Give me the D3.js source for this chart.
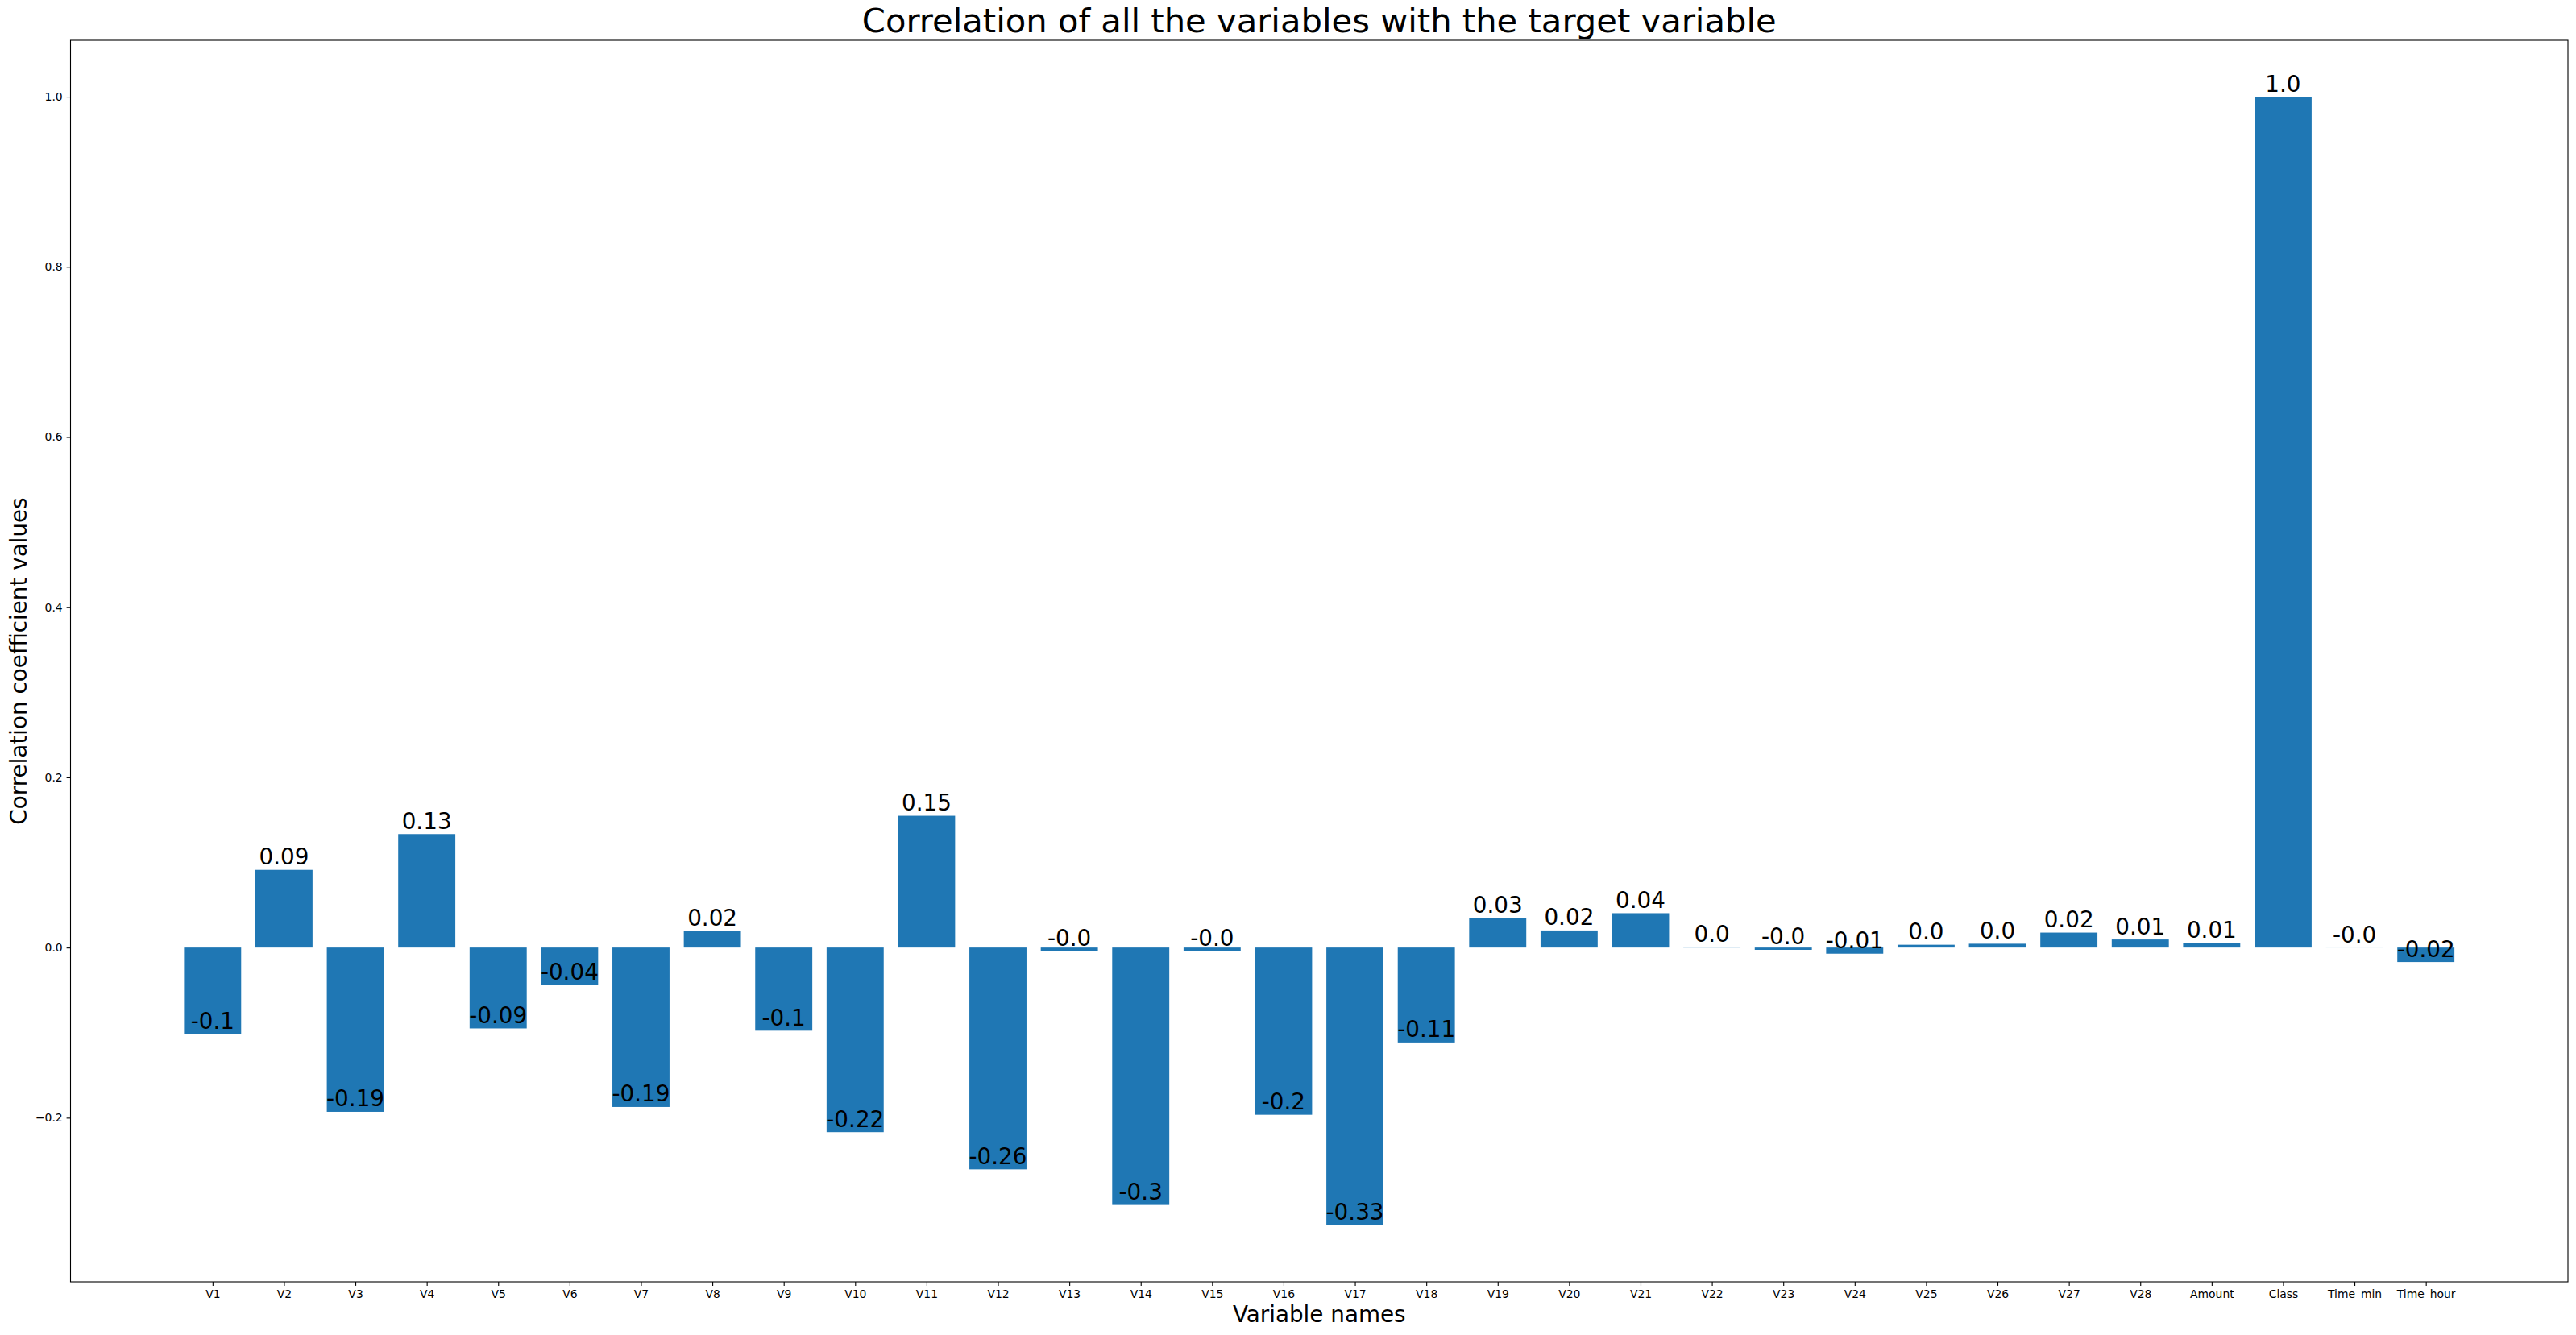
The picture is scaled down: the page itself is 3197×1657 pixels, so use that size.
<!DOCTYPE html>
<html>
<head>
<meta charset="utf-8">
<script src="https://cdn.jsdelivr.net/npm/d3@7"></script>
<style>
  body { margin: 0; background: #fff; overflow: hidden; }
  svg { display: block; font-family: "DejaVu Sans", sans-serif; }
</style>
</head>
<body>
<div id="chart"></div>
<script>
// variable names on the x axis
const variables = ['V1','V2','V3','V4','V5','V6','V7','V8','V9','V10',
  'V11','V12','V13','V14','V15','V16','V17','V18','V19','V20',
  'V21','V22','V23','V24','V25','V26','V27','V28','Amount','Class','Time_min','Time_hour'];

// correlation with Class
const corrValues = [-0.1013, 0.0913, -0.1930, 0.1334, -0.0950, -0.0436, -0.1873, 0.0199, -0.0977, -0.2169,
  0.1549, -0.2606, -0.0046, -0.3025, -0.0042, -0.1965, -0.3265, -0.1115, 0.0348, 0.0201,
  0.0404, 0.0008, -0.0027, -0.0072, 0.0033, 0.0045, 0.0176, 0.0095, 0.0056, 1.0, -0.00004, -0.0170];

const yTicks = [-0.2, 0.0, 0.2, 0.4, 0.6, 0.8, 1.0];

const width = 3197, height = 1657;
const margin = {top: 50, right: 10, bottom: 66, left: 87.5};
const barWidth = 0.8;

const svg = d3.select('#chart').append('svg')
  .attr('width', width)
  .attr('height', height);

// matplotlib style limits: bar extents plus 5% margin
const xlo = -barWidth / 2, xhi = variables.length - 1 + barWidth / 2;
const xm = (xhi - xlo) * 0.05;
const x = d3.scaleLinear()
  .domain([xlo - xm, xhi + xm])
  .range([margin.left, width - margin.right]);

const ylo = Math.min(0, d3.min(corrValues)), yhi = Math.max(0, d3.max(corrValues));
const ym = (yhi - ylo) * 0.05;
const y = d3.scaleLinear()
  .domain([ylo - ym, yhi + ym])
  .range([height - margin.bottom, margin.top]);

const data = variables.map((name, i) => ({name, i, value: corrValues[i]}));

// bars
svg.append('g')
  .selectAll('rect')
  .data(data)
  .enter().append('rect')
  .attr('x', d => x(d.i - barWidth / 2))
  .attr('width', d => x(d.i + barWidth / 2) - x(d.i - barWidth / 2))
  .attr('y', d => y(Math.max(0, d.value)))
  .attr('height', d => Math.abs(y(d.value) - y(0)))
  .attr('fill', '#1f77b4');

// value labels, bottom of text sitting on bar end
svg.append('g')
  .selectAll('text')
  .data(data)
  .enter().append('text')
  .attr('x', d => x(d.i))
  .attr('y', d => y(d.value) - 6.5)
  .attr('text-anchor', 'middle')
  .attr('font-size', '27.8px')
  .attr('fill', '#000')
  .text(d => {
    const r = Math.round(d.value * 100) / 100;
    let s = String(r);
    if (!s.includes('.')) s = s + '.0';
    if (r === 0 && d.value < 0) s = '-0.0';
    return s;
  });

// axes
const xAxis = d3.axisBottom(x)
  .tickValues(data.map(d => d.i))
  .tickFormat(i => variables[i])
  .tickSize(4.9)
  .tickPadding(4.9);

const yAxis = d3.axisLeft(y)
  .tickValues(yTicks)
  .tickFormat(v => d3.format('.1f')(v).replace('-', '\u2212'))
  .tickSize(4.9)
  .tickPadding(4.9);

const gx = svg.append('g')
  .attr('transform', `translate(0,${height - margin.bottom})`)
  .call(xAxis);
const gy = svg.append('g')
  .attr('transform', `translate(${margin.left},0)`)
  .call(yAxis);

[gx, gy].forEach(g => {
  g.select('.domain').remove();
  g.selectAll('.tick line').attr('stroke', '#000').attr('stroke-width', 1.1);
  g.selectAll('.tick text')
    .attr('font-size', '13.9px')
    .attr('font-family', 'DejaVu Sans, sans-serif')
    .attr('fill', '#000');
});

// frame
svg.append('rect')
  .attr('x', margin.left)
  .attr('y', margin.top)
  .attr('width', width - margin.right - margin.left)
  .attr('height', height - margin.bottom - margin.top)
  .attr('fill', 'none')
  .attr('stroke', '#000')
  .attr('stroke-width', 1.1);

const cx = (margin.left + width - margin.right) / 2;

svg.append('text')
  .attr('x', cx)
  .attr('y', 40)
  .attr('text-anchor', 'middle')
  .attr('font-size', '41.7px')
  .text('Correlation of all the variables with the target variable');

svg.append('text')
  .attr('x', cx)
  .attr('y', 1641)
  .attr('text-anchor', 'middle')
  .attr('font-size', '27.8px')
  .text('Variable names');

svg.append('text')
  .attr('transform', `translate(33,${(margin.top + height - margin.bottom) / 2}) rotate(-90)`)
  .attr('text-anchor', 'middle')
  .attr('font-size', '27.8px')
  .text('Correlation coefficient values');
</script>
</body>
</html>
